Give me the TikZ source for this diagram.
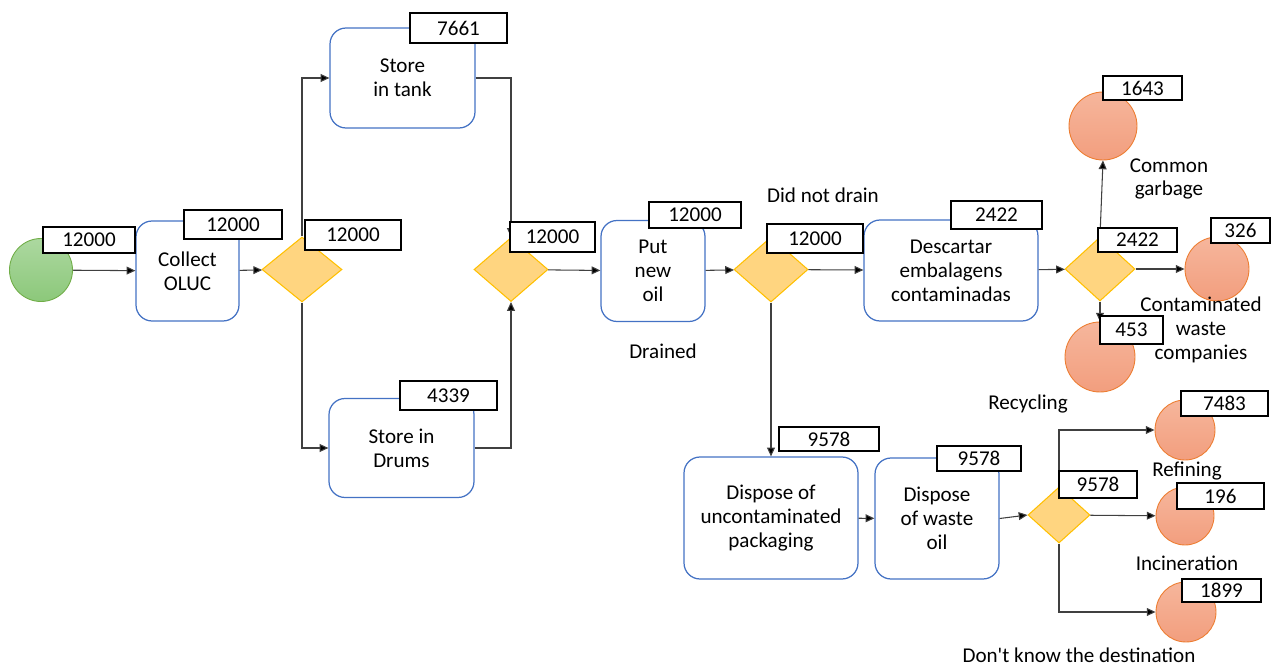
\documentclass[tikz,border=0pt]{standalone}
\usepackage{fontspec}
\setmainfont{Carlito}
\usetikzlibrary{shapes.geometric,arrows.meta}

\definecolor{boxblue}{RGB}{68,114,196}
\definecolor{decfill}{RGB}{255,213,128}
\definecolor{decline}{RGB}{255,192,0}
\definecolor{greentop}{RGB}{172,216,160}
\definecolor{greenbot}{RGB}{140,200,122}
\definecolor{greenline}{RGB}{112,173,71}
\definecolor{endtop}{RGB}{246,182,156}
\definecolor{endbot}{RGB}{242,158,126}
\definecolor{endline}{RGB}{237,125,49}

\tikzset{
    txt/.style={font=\fontsize{12}{13.6}\selectfont, align=center},
    stepbox/.style={txt, draw=boxblue, fill=white, rounded corners=0.32cm, line width=0.7pt},
    decision/.style={diamond, draw=decline, fill=decfill, inner sep=0pt, line width=0.6pt},
    startnode/.style={circle, draw=greenline, top color=greentop, bottom color=greenbot, line width=0.5pt},
    endnode/.style={circle, draw=endline, top color=endtop, bottom color=endbot, line width=0.5pt},
    qty/.style={txt, draw=black, fill=white, line width=0.8pt, inner sep=0pt},
    flow/.style={draw=black!75, line width=0.6pt, -{Triangle[length=5pt,width=4.5pt,fill=black]}}
}

\begin{document}
\begin{tikzpicture}[x=0.02cm, y=-0.02cm]
    \useasboundingbox (0,0) rectangle (1286,666);
    % Define nodes
    \node[startnode, minimum size=1.26cm] (start) at (41,270) {};
    \node[stepbox, minimum width=2.06cm, minimum height=2cm] (collect) at (187.5,271) {Collect\\OLUC};
    \node[decision, minimum width=1.6cm, minimum height=1.3cm] (dec1) at (302,269.5) {};
    \node[stepbox, minimum width=2.9cm, minimum height=2cm] (tank) at (402.5,78) {Store\\in tank};
    \node[stepbox, minimum width=2.9cm, minimum height=1.98cm] (drums) at (401.5,448) {Store in\\Drums};
    \node[decision, minimum width=1.48cm, minimum height=1.28cm] (dec2) at (511,269.5) {};
    \node[stepbox, minimum width=2.08cm, minimum height=2.02cm] (newoil) at (653,271) {Put\\new\\oil};
    \node[decision, minimum width=1.48cm, minimum height=1.3cm] (dec3) at (771,269.5) {};
    \node[stepbox, minimum width=3.48cm, minimum height=2.02cm] (discard) at (951,270.5) {Descartar\\embalagens\\contaminadas};
    \node[decision, minimum width=1.4cm, minimum height=1.28cm] (dec4) at (1100,269) {};
    \node[endnode, minimum size=1.36cm] (garbage) at (1103,126) {};
    \node[endnode, minimum size=1.28cm] (waste) at (1217,269) {};
    \node[endnode, minimum size=1.4cm] (recycle) at (1100,357) {};
    \node[stepbox, minimum width=3.48cm, minimum height=2.44cm] (clean) at (771,518) {Dispose of\\uncontaminated\\packaging};
    \node[stepbox, minimum width=2.48cm, minimum height=2.42cm] (oil) at (937,518.5) {Dispose\\of waste\\oil};
    \node[decision, minimum width=1.24cm, minimum height=1.12cm] (dec5) at (1059,515) {};
    \node[endnode, minimum size=1.2cm] (refine) at (1185,430) {};
    \node[endnode, minimum size=1.16cm] (burn) at (1185,516) {};
    \node[endnode, minimum size=1.2cm] (unknown) at (1186,612) {};

    % Draw arrows
    \draw[flow] (start) -- (collect);
    \draw[flow] (collect) -- (dec1);
    \draw[flow] (dec1.north) |- (tank.west);
    \draw[flow] (dec1.south) |- (drums.west);
    \draw[flow] (tank.east) -| (dec2.north);
    \draw[flow] (drums.east) -| (dec2.south);
    \draw[flow] (dec2) -- (newoil);
    \draw[flow] (newoil) -- (dec3);
    \draw[flow] (dec3) -- (discard);
    \draw[flow] (dec3.south) -- (clean.north);
    \draw[flow] (discard) -- (dec4);
    \draw[flow] (dec4.north) -- (garbage.south);
    \draw[flow] (dec4) -- (waste);
    \draw[flow] (dec4.south) -- (recycle.north);
    \draw[flow] (clean) -- (oil);
    \draw[flow] (oil.east) -- (dec5.west);
    \draw[flow] (dec5.north) |- (refine.west);
    \draw[flow] (dec5) -- (burn);
    \draw[flow] (dec5.south) |- (unknown.west);

    % Quantities
    \node[qty, minimum width=1.84cm, minimum height=0.52cm] (qstart) at (89,240) {12000};
    \node[qty, minimum width=1.96cm, minimum height=0.58cm] (qcollect) at (233,224.5) {12000};
    \node[qty, minimum width=1.92cm, minimum height=0.6cm] (qdec1) at (353,235) {12000};
    \node[qty, minimum width=1.94cm, minimum height=0.6cm] (qtank) at (458.5,28) {7661};
    \node[qty, minimum width=1.94cm, minimum height=0.58cm] (qdrums) at (448.5,395.5) {4339};
    \node[qty, minimum width=1.7cm, minimum height=0.6cm] (qdec2) at (552.5,237) {12000};
    \node[qty, minimum width=1.84cm, minimum height=0.52cm] (qnewoil) at (695,215) {12000};
    \node[qty, minimum width=1.92cm, minimum height=0.58cm] (qdec3) at (815,238.5) {12000};
    \node[qty, minimum width=1.82cm, minimum height=0.56cm] (qdiscard) at (996.5,215) {2422};
    \node[qty, minimum width=1.58cm, minimum height=0.48cm] (qdec4) at (1137.5,240) {2422};
    \node[qty, minimum width=1.58cm, minimum height=0.48cm] (qgarbage) at (1142.5,88) {1643};
    \node[qty, minimum width=1.18cm, minimum height=0.5cm] (qwaste) at (1240.5,230.5) {326};
    \node[qty, minimum width=1.26cm, minimum height=0.56cm] (qrecycle) at (1131.5,330) {453};
    \node[qty, minimum width=2cm, minimum height=0.48cm] (qclean) at (829,439) {9578};
    \node[qty, minimum width=1.68cm, minimum height=0.5cm] (qoil) at (979,458.5) {9578};
    \node[qty, minimum width=1.56cm, minimum height=0.54cm] (qdec5) at (1098,484.5) {9578};
    \node[qty, minimum width=1.74cm, minimum height=0.5cm] (qrefine) at (1224.5,403.5) {7483};
    \node[qty, minimum width=1.74cm, minimum height=0.52cm] (qburn) at (1220.5,496) {196};
    \node[qty, minimum width=1.58cm, minimum height=0.46cm] (qunknown) at (1221.5,590.5) {1899};

    % Labels
    \node[txt] (notdrain) at (823,195) {Did not drain};
    \node[txt] (drained) at (663,351) {Drained};
    \node[txt] (lgarbage) at (1169,179) {Common\\garbage};
    \node[txt] (lwaste) at (1201,330) {Contaminated\\waste\\companies};
    \node[txt] (lrecycle) at (1028,404) {Recycling};
    \node[txt] (lrefine) at (1187,471) {Refining};
    \node[txt] (lburn) at (1187,563) {Incineration};
    \node[txt] (lunknown) at (1079,655) {Don\textquotesingle t know the destination};
\end{tikzpicture}
\end{document}
